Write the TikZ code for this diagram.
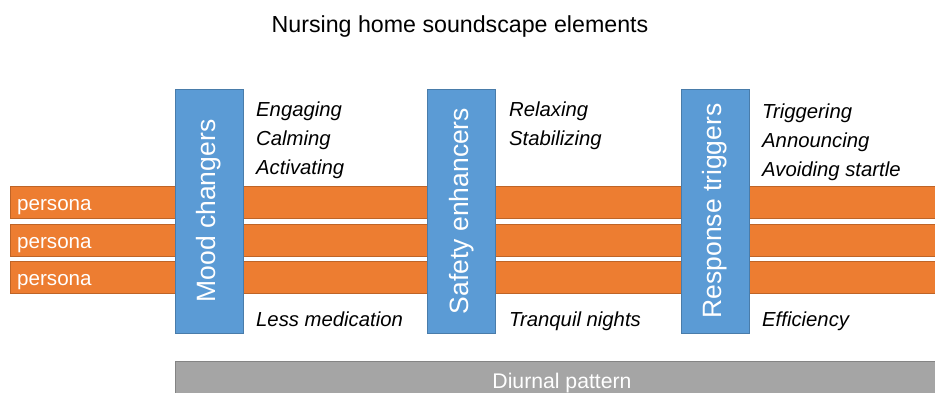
\documentclass[tikz,border=0pt]{standalone}
\usepackage{fontspec}
\setmainfont{Liberation Sans}
\usepackage{tikz}
\definecolor{barorange}{HTML}{ED7D31}
\definecolor{barblue}{HTML}{5B9BD5}
\definecolor{bargray}{HTML}{A5A5A5}
\tikzstyle{bar} = [draw=barorange!80!black, fill=barorange, line width=0.6pt, minimum width=930pt, minimum height=32pt, inner sep=0pt, anchor=west]
\tikzstyle{persona} = [text=white, font=\fontsize{20.6}{20.6}\selectfont, anchor=base west, inner sep=0pt]
\tikzstyle{group} = [draw=barblue!80!black, fill=barblue, line width=0.6pt, rotate=90, minimum width=244pt, minimum height=68pt, inner sep=0pt, text=white, font=\fontsize{26.5}{26.5}\selectfont]
\tikzstyle{item} = [anchor=base west, inner sep=0pt, font=\itshape\fontsize{20.3}{20.3}\selectfont]
\tikzstyle{day} = [draw=bargray!80!black, fill=bargray, line width=0.6pt, minimum width=770pt, minimum height=50pt, inner sep=0pt, anchor=north west]

\begin{document}
\begin{tikzpicture}[x=1pt, y=-1pt]
	\useasboundingbox (0,0) rectangle (935,392);
	\node[anchor=base, inner sep=0pt, font=\fontsize{23.2}{23.2}\selectfont] (title) at (460,32) {Nursing home soundscape elements};
	% persona rows
	\node[bar] (row1) at (10,202) {};
	\node[bar] (row2) at (10,240) {};
	\node[bar] (row3) at (10,277) {};
	\node[persona] (per1) at (17,210.5) {persona};
	\node[persona] (per2) at (17,248) {persona};
	\node[persona] (per3) at (17,285.5) {persona};
	% element groups
	\node[group] (mood) at (209,211) {Mood changers};
	\node[group] (safety) at (461.5,211) {Safety enhancers};
	\node[group] (response) at (715,211) {Response triggers};
	\node[item] (engaging) at (256,116) {Engaging};
	\node[item] (calming) at (256,145) {Calming};
	\node[item] (activating) at (256,174) {Activating};
	\node[item] (lessmed) at (256,326) {Less medication};
	\node[item] (relaxing) at (509,116) {Relaxing};
	\node[item] (stabilizing) at (509,145) {Stabilizing};
	\node[item] (tranquil) at (509,326) {Tranquil nights};
	\node[item] (triggering) at (762,118) {Triggering};
	\node[item] (announcing) at (762,147) {Announcing};
	\node[item] (startle) at (762,176) {Avoiding startle};
	\node[item] (efficiency) at (762,326) {Efficiency};
	% diurnal pattern
	\node[day] (diurnal) at (175,361) {};
	\node[anchor=base, inner sep=0pt, text=white, font=\fontsize{21.2}{21.2}\selectfont] (diurnaltext) at (562,388) {Diurnal pattern};
\end{tikzpicture}
\end{document}
